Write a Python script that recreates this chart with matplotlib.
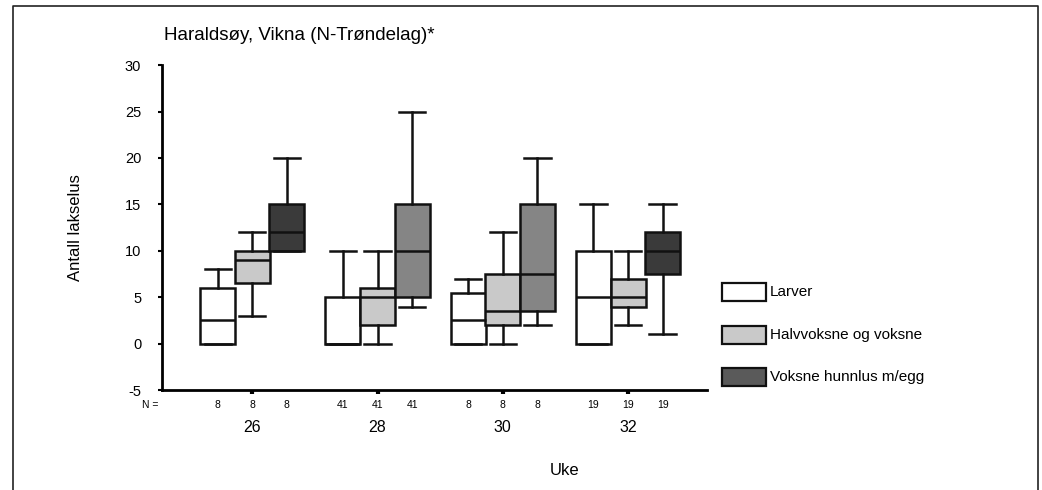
import matplotlib.pyplot as plt
from matplotlib.patches import Rectangle
import numpy as np

plt.rcParams['font.family'] = ['Liberation Sans', 'DejaVu Sans']
plt.rcParams['axes.unicode_minus'] = False

# Uke og antall fisk per gruppe
uker = ['26', '28', '30', '32']
n_fisk = [8, 41, 8, 19]
grupper = ['Larver', 'Halvvoksne og voksne', 'Voksne hunnlus m/egg']

# Boksplott-verdier per uke: (nedre whisker, Q1, median, Q3, øvre whisker)
larver = [(0, 0, 2.5, 6, 8), (0, 0, 0, 5, 10), (0, 0, 2.5, 5.5, 7), (0, 0, 5, 10, 15)]
halvvoksne = [(3, 6.5, 9, 10, 12), (0, 2, 5, 6, 10), (0, 2, 3.5, 7.5, 12), (2, 4, 5, 7, 10)]
hunnlus = [(10, 10, 12, 15, 20), (4, 5, 10, 15, 25), (2, 3.5, 7.5, 15, 20), (1, 7.5, 10, 12, 15)]

# Fyllfarger: hunnlus er tegnet mørkere i uke 26 og 32
farger_larver = ['white'] * 4
farger_halv = ['#c9c9c9'] * 4
farger_hunn = ['#3a3a3a', '#858585', '#858585', '#3a3a3a']
legend_farger = ['white', '#c9c9c9', '#5a5a5a']

fig = plt.figure(figsize=(10.42, 4.9), dpi=100)
ax = fig.add_axes([0.1555, 0.204, 0.523, 0.663])

x = np.arange(len(uker))
dx = 0.276
bw = 0.28


def tegn(verdier, pos, farger):
    stats = []
    for v in verdier:
        stats.append({'whislo': v[0], 'q1': v[1], 'med': v[2], 'q3': v[3], 'whishi': v[4], 'fliers': []})
    b = ax.bxp(stats, positions=pos, widths=bw, capwidths=bw * 0.75, patch_artist=True,
               showfliers=False,
               boxprops=dict(edgecolor='#111111', linewidth=1.8),
               medianprops=dict(color='#111111', linewidth=1.8),
               whiskerprops=dict(color='#111111', linewidth=1.8),
               capprops=dict(color='#111111', linewidth=1.8))
    for p, f in zip(b['boxes'], farger):
        p.set_facecolor(f)


tegn(larver, x - dx, farger_larver)
tegn(halvvoksne, x, farger_halv)
tegn(hunnlus, x + dx, farger_hunn)

ax.set_xlim(-0.72, 3.63)
ax.set_ylim(-5, 30)
ax.set_yticks(range(-5, 31, 5))
ax.tick_params(axis='y', labelsize=10.5, length=3, width=1.5, pad=12)
ax.set_xticks(x)
ax.set_xticklabels([])
ax.tick_params(axis='x', length=3, width=3)
for s in ['top', 'right']:
    ax.spines[s].set_visible(False)
ax.spines['left'].set_linewidth(2)
ax.spines['bottom'].set_linewidth(2)

# N-tall under hver boks og ukenummer
trans = ax.get_xaxis_transform()
ax.text(-0.72 - 0.03, -0.045, 'N =', transform=trans, ha='right', va='center', fontsize=7.5)
for i, uke in enumerate(uker):
    for off in (-dx, 0, dx):
        ax.text(x[i] + off, -0.045, str(n_fisk[i]), transform=trans, ha='center', va='center', fontsize=7.5)
    ax.text(x[i], -0.115, uke, transform=trans, ha='center', va='center', fontsize=11.5)

ax.set_ylabel('Antall lakselus', fontsize=12, labelpad=30)
fig.text(0.542, 0.04, 'Uke', ha='center', va='center', fontsize=12)
fig.text(0.157, 0.928, 'Haraldsøy, Vikna (N-Trøndelag)*', ha='left', va='center', fontsize=13.5)

# Forklaring til høyre
for i, (navn, farge) in enumerate(zip(grupper, legend_farger)):
    yc = 1 - (292 + 42.5 * i) / 490
    fig.add_artist(Rectangle((722 / 1042, yc - 9 / 490), 44 / 1042, 18 / 490, transform=fig.transFigure,
                             facecolor=farge, edgecolor='#111111', linewidth=1.6))
    fig.text(770 / 1042, yc, navn, ha='left', va='center', fontsize=11)

# Ramme rundt figuren
fig.add_artist(plt.Line2D([13 / 1042, 13 / 1042, 1038 / 1042, 1038 / 1042], [0, 1 - 6 / 490, 1 - 6 / 490, 0],
                          transform=fig.transFigure, color='#222222', linewidth=1.2))

fig.savefig('out.png', dpi=100)
